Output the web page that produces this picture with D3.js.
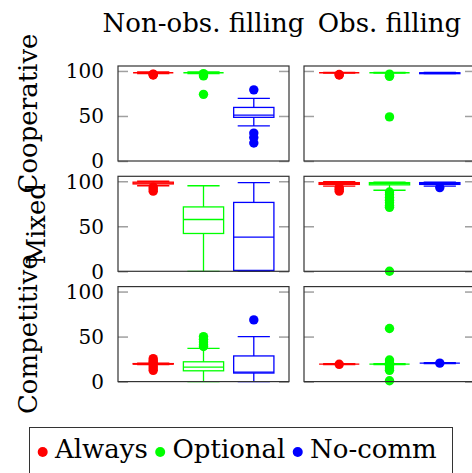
<!DOCTYPE html>
<html>
<head>
<meta charset="utf-8">
<script src="https://cdn.jsdelivr.net/npm/d3@7"></script>
<style>
  body { margin: 0; background: #fff; }
</style>
</head>
<body>
<div id="chart"></div>
<script>
// data
const rowNames = ["Cooperative", "Mixed", "Competitive"]
const colNames = ["Non-obs. filling", "Obs. filling"]
const seriesNames = ["Always", "Optional", "No-comm"]
const seriesColors = ["#ff0000", "#00ff00", "#0000ff"]
const yTicks = [0, 50, 100]

// box stats per panel: [lowWhisker, q1, median, q3, highWhisker] for Always, Optional, No-comm
const coopNonObs = [[97, 98, 98, 98, 99], [97, 98, 98, 98, 99], [39, 48.5, 51, 59.5, 69.5]]
const coopObs = [[97.5, 98, 98, 98, 98.5], [97.5, 98, 98, 98, 98.5], [97, 97, 97.5, 98, 98.5]]
const mixedNonObs = [[95, 97, 98, 99, 100], [0, 42, 57.5, 71.5, 95], [0, 1, 38, 76.5, 98.5]]
const mixedObs = [[94.5, 96.5, 97.5, 98.5, 99.5], [90, 96, 97.5, 98.5, 99], [94.5, 96.5, 97.5, 98.5, 99]]
const compNonObs = [[19, 19.5, 19.5, 20, 20.5], [0, 12, 16, 22, 37], [0, 9.5, 10.5, 28.5, 50]]
const compObs = [[19, 19.5, 19.5, 19.5, 20], [19, 19.5, 19.5, 19.5, 20], [20, 20.5, 20.5, 20.5, 21]]

// outliers per panel, same series order
const coopNonObsOut = [[96, 95.5, 96.5], [97, 95.5, 94.5, 74], [79, 31, 26, 20]]
const coopObsOut = [[96, 95.5], [96.5, 95, 94, 49], []]
const mixedNonObsOut = [[93.5, 91.5, 89], [], []]
const mixedObsOut = [[93, 91, 89], [88, 85, 82, 79, 76, 73, 71, 0], [93]]
const compNonObsOut = [[25.5, 23, 21.5, 17.5, 15, 12.5], [50, 47, 44, 41, 39], [68.5]]
const compObsOut = [[19.2], [59, 24, 21, 18, 15, 12.5, 1], [20.5]]

const panelStats = [[coopNonObs, coopObs], [mixedNonObs, mixedObs], [compNonObs, compObs]]
const panelOut = [[coopNonObsOut, coopObsOut], [mixedNonObsOut, mixedObsOut], [compNonObsOut, compObsOut]]

const W = 472, H = 473
const colLeft = [118, 304]
const panelW = 171
const rowTop = [66, 176.3, 286.6]
const panelH = 95
const boxW = 0.8, capW = 0.64
const FONT = "DejaVu Serif, serif"

const svg = d3.select("#chart").append("svg")
    .attr("width", W)
    .attr("height", H)

// every label is placed with a transform, size in px
function addText(parent, str, size, tx, ty, rot){
    return parent.append("text")
        .attr("transform", "translate(" + tx + "," + ty + ")" + (rot ? " rotate(" + rot + ")" : ""))
        .attr("font-family", FONT)
        .style("font-size", size + "px")
        .text(str)
}

// column titles
colNames.forEach((name, c) => {
    addText(svg, name, 26, colLeft[c] + panelW / 2, 31.5)
        .attr("text-anchor", "middle")
})

const rowLabelX = [37, 45, 37]

rowNames.forEach((rname, r) => {

    const y = d3.scaleLinear()
        .domain([0, 105.5])
        .range([rowTop[r] + panelH, rowTop[r]])

    colNames.forEach((cname, c) => {

        const x = d3.scaleLinear()
            .domain([0.3, 3.7])
            .range([colLeft[c], colLeft[c] + panelW])

        const g = svg.append("g")

        // tick marks inside on both sides
        g.append("g")
            .attr("transform", "translate(" + colLeft[c] + ",0)")
            .call(d3.axisRight(y).tickValues(yTicks).tickSize(10).tickFormat(""))
            .call(a => a.select(".domain").remove())
            .call(a => a.selectAll("line").attr("stroke", "#a0a0a0").attr("stroke-width", 1.5))

        g.append("g")
            .attr("transform", "translate(" + (colLeft[c] + panelW) + ",0)")
            .call(d3.axisLeft(y).tickValues(yTicks).tickSize(10).tickFormat(""))
            .call(a => a.select(".domain").remove())
            .call(a => a.selectAll("line").attr("stroke", "#a0a0a0").attr("stroke-width", 1.5))

        // tick labels only on the left column
        if (c === 0) {
            yTicks.forEach(t => {
                addText(g, t, 20, 104, y(t) + 7.3)
                    .attr("text-anchor", "end")
            })
        }

        const stats = panelStats[r][c]
        const outs = panelOut[r][c]

        stats.forEach((s, i) => {
            const color = seriesColors[i]
            const cx = i + 1
            const bg = g.append("g")
                .attr("fill", "none")
                .attr("stroke", color)
                .attr("stroke-width", 1.3)

            // whiskers
            bg.append("line")
                .attr("x1", x(cx)).attr("x2", x(cx))
                .attr("y1", y(s[3])).attr("y2", y(s[4]))
            bg.append("line")
                .attr("x1", x(cx)).attr("x2", x(cx))
                .attr("y1", y(s[1])).attr("y2", y(s[0]))
            bg.selectAll(".cap")
                .data([s[0], s[4]])
                .enter()
                .append("line")
                .attr("x1", x(cx - capW / 2)).attr("x2", x(cx + capW / 2))
                .attr("y1", d => y(d)).attr("y2", d => y(d))

            // box + median
            bg.append("rect")
                .attr("x", x(cx - boxW / 2))
                .attr("width", x(cx + boxW / 2) - x(cx - boxW / 2))
                .attr("y", y(s[3]))
                .attr("height", Math.max(0, y(s[1]) - y(s[3])))
            bg.append("line")
                .attr("x1", x(cx - boxW / 2)).attr("x2", x(cx + boxW / 2))
                .attr("y1", y(s[2])).attr("y2", y(s[2]))

            // outliers
            g.selectAll(".out" + i)
                .data(outs[i])
                .enter()
                .append("circle")
                .attr("cx", x(cx))
                .attr("cy", d => y(d))
                .attr("r", 4.7)
                .attr("fill", color)
        })

        // frame
        g.append("rect")
            .attr("x", colLeft[c])
            .attr("y", rowTop[r])
            .attr("width", panelW)
            .attr("height", panelH)
            .attr("fill", "none")
            .attr("stroke", "#333")
            .attr("stroke-width", 1.2)
    })

    // row label
    addText(svg, rname, 26, rowLabelX[r], rowTop[r] + panelH / 2, -90)
        .attr("text-anchor", "middle")
})

// legend
const legend = svg.append("g")
legend.append("rect")
    .attr("x", 29.5)
    .attr("y", 427.5)
    .attr("width", 423)
    .attr("height", 60)
    .attr("fill", "#fff")
    .attr("stroke", "#333")
    .attr("stroke-width", 1)

let lx = 42.7
seriesNames.forEach((name, i) => {
    legend.append("circle")
        .attr("cx", lx)
        .attr("cy", 452)
        .attr("r", 5)
        .attr("fill", seriesColors[i])
    const t = addText(legend, name, 26, lx + 12.3, 458.3)
    lx = lx + 12.3 + t.node().getComputedTextLength() + 12.3
})
</script>
</body>
</html>
